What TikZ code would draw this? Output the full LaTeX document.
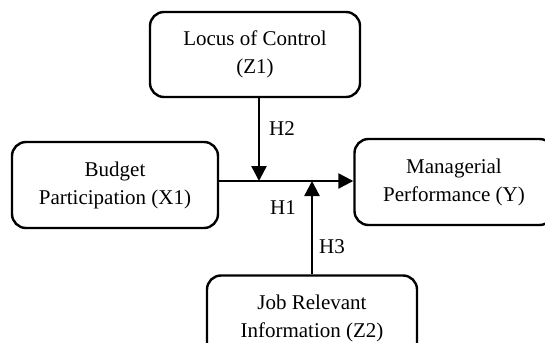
\documentclass[tikz,border=0pt]{standalone}
\usepackage{fontspec}
\setmainfont{Liberation Serif}
\usetikzlibrary{arrows.meta}
\begin{document}
\begin{tikzpicture}[x=1pt,y=-1pt,
  box/.style={draw,line width=2.4pt,rounded corners=14pt,align=center,inner sep=0pt,
    font=\fontsize{21}{28}\selectfont},
  conn/.style={line width=2.4pt,-{Triangle[width=15pt,length=15pt]}},
  lbl/.style={font=\fontsize{21}{28}\selectfont,inner sep=0pt}]
\clip (0,0) rectangle (545,342);
\fill[white] (0,0) rectangle (545,342);
\node[box,minimum width=210pt,minimum height=85pt] (top) at (255,54.5) {Locus of Control\\(Z1)};
\node[box,minimum width=206pt,minimum height=86pt] (left) at (115,185) {Budget\\Participation (X1)};
\node[box,minimum width=199pt,minimum height=86pt] (right) at (454,182) {Managerial\\Performance (Y)};
\node[box,minimum width=210pt,minimum height=86pt] (bot) at (312,318.5) {Job Relevant\\Information (Z2)};
\coordinate (j1) at (259,181);
\coordinate (j2) at (312,181);
\draw[conn] (left.east |- j1) -- (right.west |- j1);
\draw[conn] (top.south -| j1) -- (j1);
\draw[conn] (bot.north -| j2) -- (j2);
\node[lbl] (h2) at (282,129) {H2};
\node[lbl] (h1) at (283,208) {H1};
\node[lbl] (h3) at (332,247) {H3};
\end{tikzpicture}
\end{document}
